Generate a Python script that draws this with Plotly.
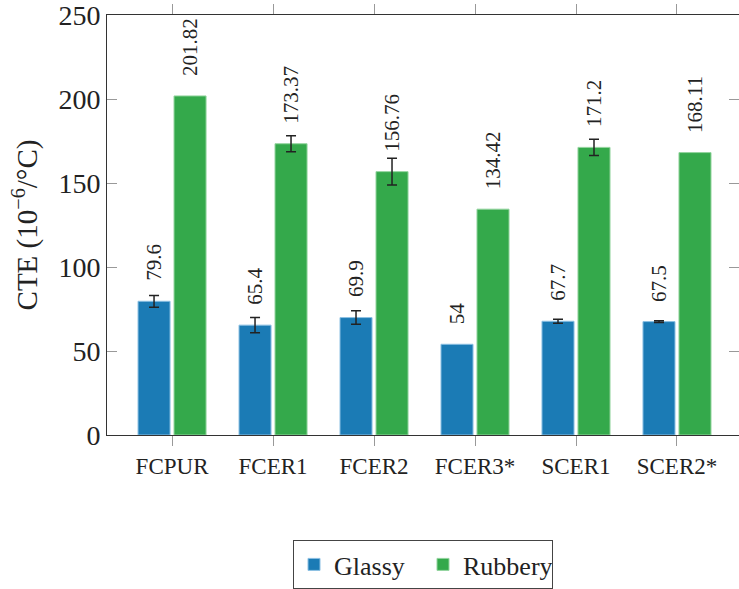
import plotly.graph_objects as go

# Coefficient of thermal expansion below / above Tg for each formulation
categories = ["FCPUR", "FCER1", "FCER2", "FCER3*", "SCER1", "SCER2*"]
glassy = [79.6, 65.4, 69.9, 54, 67.7, 67.5]
glassy_err = [3.5, 4.5, 4.0, None, 1.2, 0.5]
rubbery = [201.82, 173.37, 156.76, 134.42, 171.2, 168.11]
rubbery_err = [None, 4.8, 8.0, None, 4.9, None]

glassy_labels = ["79.6", "65.4", "69.9", "54", "67.7", "67.5"]
rubbery_labels = ["201.82", "173.37", "156.76", "134.42", "171.2", "168.11"]

BLUE = "#1b7bb5"
GREEN = "#34a94b"
FONT = "Liberation Serif, Times New Roman, serif"
BARGAP = 0.287
BARGROUPGAP = 0.11


def whiskers(errs):
    # plotly.js skips a whisker whose value is not numeric; null would be read as 0
    return [("NaN" if e is None else e) for e in errs]


fig = go.Figure()
fig.add_trace(go.Bar(
    name="Glassy", x=categories, y=glassy,
    marker=dict(color=BLUE, line=dict(color="#8cc0e3", width=1)),
    error_y=dict(type="data", array=whiskers(glassy_err), visible=True,
                 color="#222222", thickness=1.5, width=5),
))
fig.add_trace(go.Bar(
    name="Rubbery", x=categories, y=rubbery,
    marker=dict(color=GREEN, line=dict(color="#93d49e", width=1)),
    error_y=dict(type="data", array=whiskers(rubbery_err), visible=True,
                 color="#222222", thickness=1.5, width=5),
))

# value labels, rotated, placed above each bar of the group
half_slot = (1 - BARGAP) / 4
annotations = []
for i in range(len(categories)):
    for vals, labels, sign in ((glassy, glassy_labels, -1), (rubbery, rubbery_labels, 1)):
        annotations.append(dict(
            x=i + sign * half_slot, y=vals[i], xref="x", yref="y",
            text=labels[i], showarrow=False, textangle=-90,
            xanchor="center", yanchor="bottom", yshift=18,
            font=dict(family=FONT, size=21, color="#222222"),
        ))

fig.update_layout(
    width=739, height=589,
    margin=dict(l=107, r=0, t=15, b=150),
    paper_bgcolor="white", plot_bgcolor="white",
    barmode="group", bargap=BARGAP, bargroupgap=BARGROUPGAP,
    font=dict(family=FONT, color="#222222"),
    annotations=annotations,
    showlegend=True,
    legend=dict(
        orientation="h", x=0.5, xanchor="center", y=-0.25, yanchor="top",
        bordercolor="#444444", borderwidth=1,
        font=dict(family=FONT, size=26, color="#222222"),
        entrywidth=84, itemwidth=30,
    ),
    xaxis=dict(
        range=[-0.644, 5.614], showgrid=False, automargin=False,
        showline=True, linecolor="#333333", linewidth=1, mirror="ticks",
        ticks="outside", ticklen=10, tickcolor="#999999", tickwidth=1,
        tickfont=dict(family=FONT, size=23, color="#222222"),
    ),
    yaxis=dict(
        range=[0, 250], dtick=50, showgrid=False, zeroline=False, automargin=False,
        showline=True, linecolor="#333333", linewidth=1, mirror="ticks",
        ticks="inside", ticklen=10, tickcolor="#999999", tickwidth=1,
        ticklabeloverflow="allow",
        tickfont=dict(family=FONT, size=28, color="#222222"),
        title=dict(text="CTE (10<sup>−6</sup>/°C)", standoff=12,
                   font=dict(family=FONT, size=29, color="#222222")),
    ),
)

fig.write_html("out.html")
